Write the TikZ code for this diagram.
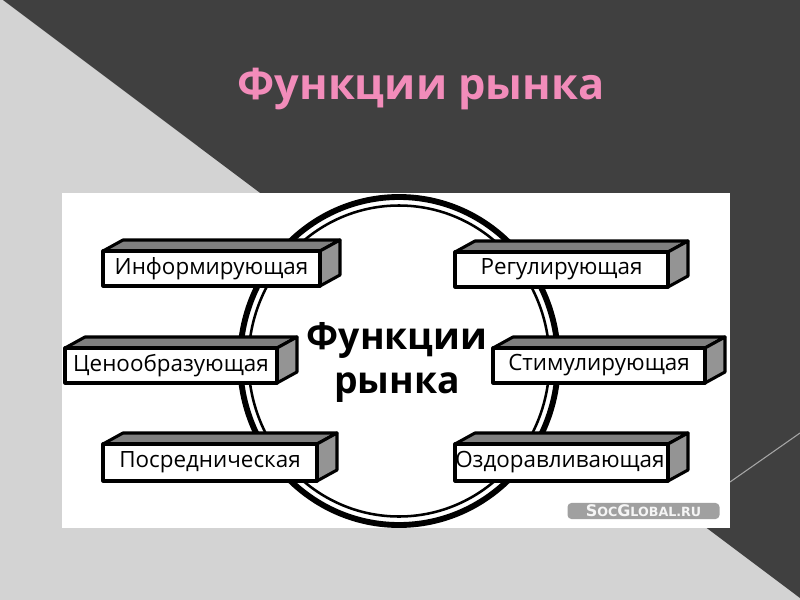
\documentclass[tikz,border=0pt]{standalone}
\usepackage{fontspec}
\newfontfamily\labfont{Open Sans}
\newfontfamily\wmfont{DejaVu Sans}
\definecolor{darkbg}{HTML}{404040}
\definecolor{lightbg}{HTML}{D3D3D3}
\definecolor{titlepink}{RGB}{242,140,186}
\definecolor{topgray}{HTML}{7F7F7F}
\definecolor{sidegray}{HTML}{949494}
\definecolor{wmgray}{HTML}{A0A0A0}
\tikzset{
  boxline/.style={draw=black,line width=2.3pt,line join=round},
  topf/.style={boxline,fill=topgray},
  sidef/.style={boxline,fill=sidegray},
  frontf/.style={boxline,fill=white},
  lab/.style={font=\labfont\fontsize{16.8}{18}\selectfont,inner sep=0pt,text=black},
}
\newcommand\cubebox[6]{%
  \filldraw[topf] (#1,#2) -- (#1+20,#2-11) -- (#3+20,#2-11) -- (#3,#2) -- cycle;
  \filldraw[sidef] (#3,#2) -- (#3+20,#2-11) -- (#3+20,#4-11) -- (#3,#4) -- cycle;
  \filldraw[frontf] (#1,#2) rectangle (#3,#4);
  \node[lab] (#5) at ({(#1+#3)/2},{(#2+#4)/2}) {#6};
}
\begin{document}
\begin{tikzpicture}[x=0.75pt,y=-0.75pt]
\useasboundingbox (0,0) rectangle (800,600);
% background
\fill[lightbg] (0,0) rectangle (800,600);
\fill[darkbg] (3,0) -- (800,0) -- (800,598) -- cycle;
\draw[color=gray!70,line width=0.8pt] (730,482) -- (800,433);
% title
\node[font=\labfont\bfseries\fontsize{32.5}{40}\selectfont,text=titlepink,inner sep=0pt] (title) at (421,89) {Функции рынка};
% white panel
\fill[white] (62,193) rectangle (730,528);
% ring
\draw[line width=4.4pt] (399,361) ellipse [x radius=159,y radius=164];
\draw[line width=1.9pt] (399,361) ellipse [x radius=150.5,y radius=155.5];
% centre text
\node[font=\labfont\bfseries\fontsize{28}{33}\selectfont,align=center,inner sep=0pt] (centre) at (397,362) {Функции\\рынка};
% boxes
\cubebox{103}{251}{320}{286}{inf}{Информирующая}
\cubebox{455}{252}{668}{287}{reg}{Регулирующая}
\cubebox{65}{348}{277}{383}{cen}{Ценообразующая}
\cubebox{493}{348}{705}{383}{stim}{Стимулирующая}
\cubebox{103}{444}{317}{481}{pos}{Посредническая}
\filldraw[topf] (455,444) -- (475,433) -- (688,433) -- (668,444) -- cycle;
\filldraw[sidef] (668,444) -- (688,433) -- (688,470) -- (668,481) -- cycle;
\filldraw[frontf] (455,444) rectangle (668,481);
\node[lab,anchor=west] (ozd) at (455,462.5) {Оздоравливающая};
% watermark
\node[fill=wmgray,rounded corners=3pt,inner sep=1.5pt,minimum width=114pt,minimum height=12pt,
      font=\wmfont\bfseries\fontsize{9.5}{9}\selectfont,text=white!92!gray] (wm) at (643.5,511)
      {{\fontsize{12}{10}\selectfont S}OC{\fontsize{12}{10}\selectfont G}LOBAL.RU};
\end{tikzpicture}
\end{document}
